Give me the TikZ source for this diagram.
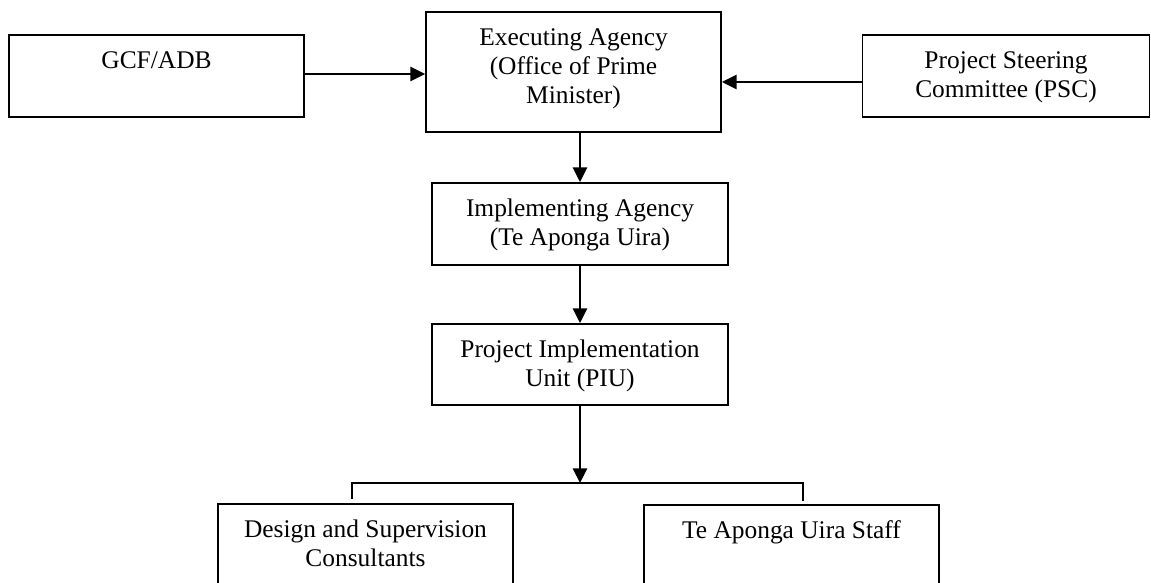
\documentclass[tikz,border=0pt]{standalone}
\usepackage{fontspec}
\setmainfont{Liberation Serif}
\usetikzlibrary{arrows.meta,calc}
\newcommand\pxu{0.48pt}
\begin{document}
\begin{tikzpicture}[x=0.48pt,y=-0.48pt,
  box/.style={draw, line width=0.9pt, inner sep=0pt},
  lbl/.style={inner sep=0pt, anchor=north, align=center, font=\fontsize{12.2}{14}\selectfont},
  conn/.style={line width=0.9pt},
  arr/.style={conn, -{Triangle[length=7pt,width=6.8pt]}}]
\clip (0,0) rectangle (1151,583);
\fill[white] (0,0) rectangle (1151,583);
% boxes
\node[box, minimum width={295*\pxu}, minimum height={82*\pxu}] (gcf) at (156.5,76) {};
\node[box, minimum width={295*\pxu}, minimum height={120*\pxu}] (ea) at (573.5,72) {};
\node[box, minimum width={287*\pxu}, minimum height={82*\pxu}] (psc) at (1006,76) {};
\node[box, minimum width={296*\pxu}, minimum height={82*\pxu}] (ia) at (580,224) {};
\node[box, minimum width={296*\pxu}, minimum height={81*\pxu}] (piu) at (580,364.5) {};
\node[box, minimum width={295*\pxu}, minimum height={82*\pxu}] (dsc) at (365.5,545) {};
\node[box, minimum width={295*\pxu}, minimum height={82*\pxu}] (staff) at (791.5,546) {};
% labels
\node[lbl] (gcft) at ([yshift=-6.5pt]gcf.north) {\strut GCF/ADB};
\node[lbl] (eat) at ([yshift=-6.5pt]ea.north) {\strut Executing Agency\\(Office of Prime\\Minister)};
\node[lbl] (psct) at ([yshift=-6.5pt]psc.north) {\strut Project Steering\\Committee (PSC)};
\node[lbl] (iat) at ([yshift=-6.5pt]ia.north) {\strut Implementing Agency\\(Te Aponga Uira)};
\node[lbl] (piut) at ([yshift=-6.5pt]piu.north) {\strut Project Implementation\\Unit (PIU)};
\node[lbl] (dsct) at ([yshift=-6.5pt]dsc.north) {\strut Design and Supervision\\Consultants};
\node[lbl] (stafft) at ([yshift=-6.5pt]staff.north) {\strut Te Aponga Uira Staff};
% connectors
\draw[arr] ([yshift=0.96pt]gcf.east) -- ([yshift=0.96pt]gcf.east -| ea.west);
\draw[arr] ([yshift=-2.88pt]psc.west) -- ([yshift=-2.88pt]psc.west -| ea.east);
\draw[arr] (ia.north |- ea.south) -- (ia.north);
\draw[arr] (ia.south) -- (piu.north);
\coordinate (bar) at (580,483);
\coordinate (bl) at (352,499);
\coordinate (br) at (803,501);
\draw[arr] (piu.south) -- (bar);
\draw[conn] (bl) |- (bar) -| (br);
\end{tikzpicture}
\end{document}
